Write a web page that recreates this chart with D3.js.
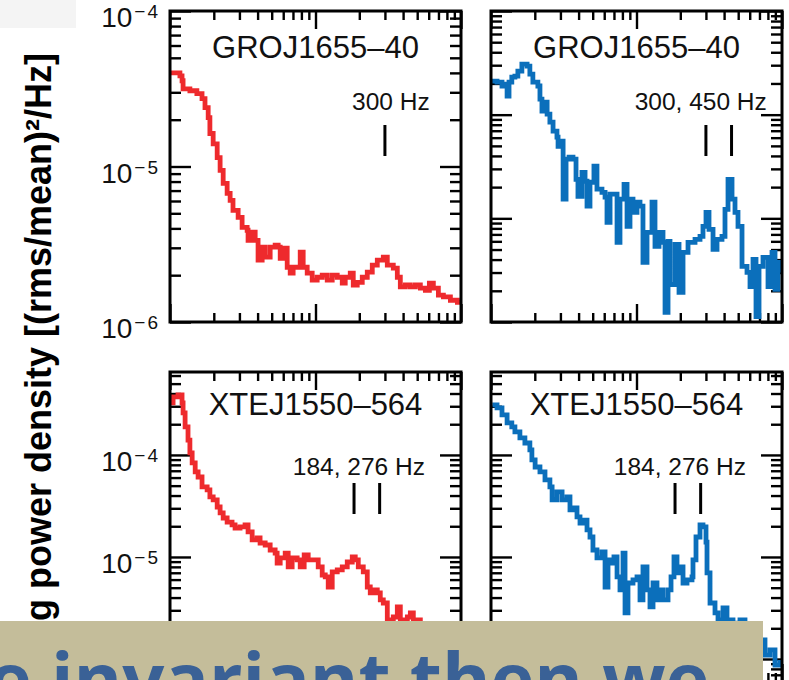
<!DOCTYPE html>
<html><head><meta charset="utf-8">
<script src="https://cdn.jsdelivr.net/npm/d3@7"></script>
<style>body{margin:0;background:#fff;overflow:hidden}svg{display:block}</style>
</head><body>
<svg id="c" width="789" height="680"></svg>
<script>
// ---------- DATA ----------
const titles = ["GROJ1655–40", "GROJ1655–40", "XTEJ1550–564", "XTEJ1550–564"];
const qpoLabels = ["300 Hz", "300, 450 Hz", "184, 276 Hz", "184, 276 Hz"];
const groRedQPO = [300];
const groBlueQPO = [300, 450];
const xteQPO = [184, 276];
const topYExponents = [-4, -5, -6];
const bottomYExponents = [-4, -5];
const yAxisLabel = "g power density [(rms/mean)²/Hz]";
const slideText = "e invariant then we";

const groRedFreq = [10,11.7,12.1,12.3,13.7,15.3,16.6,17.4,18.3,18.8,19.8,21.1,22.1,23.2,24.7,25.9,27.1,29.4,31.3,33.9,34.4,36.7,38.5,40.3,43.0,45.1,47.3,48.8,52.8,55.4,57.2,60.9,63.9,67.0,70.2,74.8,78.5,82.3,87.7,94.9,102.7,111.2,120.4,130.3,141.1,152.7,160.1,173.3,181.8,193.6,209.6,226.9,245.6,265.9,292.4,311.5,342.5,365.0,382.8,414.4,448.6,485.7,525.6,568.9,606.2,645.7,699.1,756.8,845.6,944.6,990.6];
const groRedPower = [4.0e-5,3.83e-5,3.56e-5,3.16e-5,3.07e-5,2.94e-5,2.73e-5,2.39e-5,2.06e-5,1.63e-5,1.40e-5,1.14e-5,9.43e-6,7.78e-6,6.71e-6,6.05e-6,5.22e-6,4.71e-6,4.06e-6,3.89e-6,3.35e-6,3.78e-6,3.35e-6,2.50e-6,3.03e-6,2.61e-6,2.61e-6,3.03e-6,3.12e-6,3.03e-6,2.57e-6,2.98e-6,2.25e-6,2.06e-6,2.25e-6,2.25e-6,2.81e-6,2.25e-6,2.06e-6,1.86e-6,1.94e-6,2.00e-6,1.86e-6,2.00e-6,1.94e-6,1.78e-6,1.94e-6,2.06e-6,1.73e-6,1.80e-6,1.94e-6,2.09e-6,2.32e-6,2.50e-6,2.61e-6,2.32e-6,2.22e-6,1.94e-6,1.68e-6,1.73e-6,1.68e-6,1.73e-6,1.65e-6,1.60e-6,1.78e-6,1.65e-6,1.49e-6,1.45e-6,1.38e-6,1.34e-6,1.38e-6];

const groBlueFreq = [10.0,11.0,11.9,12.5,12.9,13.3,13.9,14.6,15.3,16.3,17.7,18.5,19.4,21.0,21.7,22.4,23.5,24.3,25.4,26.7,28.4,28.9,30.8,31.3,32.8,34.4,36.6,38.4,39.6,42.2,44.3,45.7,47.9,51.0,53.5,57.9,60.8,62.7,65.8,70.0,73.5,77.0,82.1,86.1,90.2,94.6,100.8,105.7,110.8,118.1,127.8,134.0,142.8,152.1,157.1,164.7,169.9,183.9,196.0,208.8,226.0,252.5,273.2,286.4,300.4,315.0,335.7,357.6,386.9,405.7,425.6,453.4,475.3,498.4,531.1,574.9,602.8,632.1,662.8,695.1,740.4,801.5,853.9,895.3,938.9,1000];
const groBluePower = [2.11e-5,2.06e-5,1.89e-5,1.97e-5,1.51e-5,2.06e-5,2.30e-5,2.35e-5,2.63e-5,3.07e-5,2.94e-5,2.46e-5,2.06e-5,1.89e-5,1.41e-5,1.08e-5,1.32e-5,1.01e-5,8.46e-6,6.93e-6,6.06e-6,4.96e-6,5.55e-6,1.53e-6,3.72e-6,3.89e-6,3.72e-6,2.38e-6,1.63e-6,2.78e-6,2.28e-6,1.31e-6,2.23e-6,3.18e-6,1.91e-6,1.78e-6,1.60e-6,9.15e-7,1.71e-6,1.71e-6,5.86e-7,1.53e-6,2.13e-6,8.37e-7,1.53e-6,1.14e-6,1.43e-6,1.31e-6,3.76e-7,7.32e-7,1.43e-6,5.36e-7,7.32e-7,5.86e-7,1.24e-7,6.0e-7,2.30e-7,5.61e-7,1.93e-7,4.69e-7,5.86e-7,6.27e-7,6.70e-7,8.37e-7,1.14e-6,7.83e-7,5.02e-7,6.27e-7,6.70e-7,1.22e-6,2.38e-6,1.53e-6,1.14e-6,8.37e-7,3.44e-7,3.01e-7,2.20e-7,4.02e-7,1.13e-7,3.44e-7,4.20e-7,2.20e-7,4.69e-7,2.06e-7,3.76e-7,3.01e-7];

const xteRedFreq = [10.0,10.5,11.35,12.1,12.3,12.7,13.3,13.7,14.2,14.9,15.6,16.6,18.0,18.8,19.8,21.1,22.1,23.2,24.7,26.7,28.0,30.3,32.8,34.4,36.7,39.7,41.6,45.1,48.8,52.8,54.5,57.2,61.9,64.9,69.1,74.8,78.5,83.6,89.1,96.4,104.4,111.2,116.7,122.3,130.3,141.1,152.7,165.3,178.9,187.6,196.8,213.0,226.9,237.9,249.5,265.9,278.8,292.4,311.5,342.5,365.0,382.8,427.8,448.6,470.3,525.6,615.9,721.6,845.6,990.6];
const xteRedPower = [3.24e-4,3.70e-4,3.87e-4,3.24e-4,2.58e-4,1.88e-4,1.40e-4,1.05e-4,8.35e-5,6.81e-5,6.08e-5,4.86e-5,4.54e-5,3.88e-5,3.62e-5,3.09e-5,2.70e-5,2.41e-5,2.20e-5,2.06e-5,1.92e-5,1.97e-5,2.06e-5,1.76e-5,1.47e-5,1.54e-5,1.37e-5,1.31e-5,1.17e-5,1.09e-5,8.73e-6,9.78e-6,1.09e-5,7.98e-6,9.78e-6,9.35e-6,7.98e-6,1.05e-5,9.35e-6,9.35e-6,7.98e-6,6.66e-6,6.37e-6,5.08e-6,7.13e-6,7.46e-6,7.98e-6,8.93e-6,1.0e-5,9.35e-6,7.98e-6,7.13e-6,5.08e-6,4.44e-6,4.75e-6,4.44e-6,3.79e-6,3.54e-6,2.41e-6,2.58e-6,3.24e-6,2.41e-6,2.58e-6,2.83e-6,2.41e-6,1.72e-6,1.37e-6,1.23e-6,9.8e-7,8.7e-7];

const xteBlueFreq = [10.2,11.0,11.9,12.9,13.9,14.6,15.8,17.1,18.5,19.1,20.1,21.7,23.5,25.4,26.3,28.4,30.8,33.3,34.9,36.6,39.0,40.9,42.9,45.7,47.9,50.2,53.5,57.9,60.8,63.7,67.8,70.0,73.5,77.0,80.8,83.4,87.4,94.6,100.8,105.7,110.8,118.1,123.8,129.9,138.3,145.0,152.1,164.7,172.7,181.0,189.8,199.1,208.8,222.4,240.7,244.5,256.4,273.2,286.4,300.4,305.2,320.1,346.4,363.3,393.1,418.8,460.5,514.3,556.8,652.4,764.1,827.1,895.3,969.0];
const xteBluePower = [3.09e-4,2.89e-4,2.47e-4,2.06e-4,1.88e-4,1.68e-4,1.47e-4,1.31e-4,1.12e-4,8.93e-5,7.62e-5,6.81e-5,5.69e-5,4.86e-5,3.62e-5,4.34e-5,3.62e-5,3.88e-5,2.89e-5,3.02e-5,2.47e-5,2.15e-5,2.30e-5,1.84e-5,1.57e-5,1.17e-5,9.78e-6,1.12e-5,5.08e-6,9.35e-6,8.73e-6,1.0e-5,6.37e-6,4.75e-6,1.09e-5,2.83e-6,5.56e-6,5.95e-6,6.37e-6,3.79e-6,7.98e-6,4.75e-6,3.24e-6,5.56e-6,3.79e-6,4.75e-6,3.79e-6,4.75e-6,6.37e-6,1.0e-5,6.97e-6,7.98e-6,5.56e-6,5.95e-6,6.37e-6,9.35e-6,1.57e-5,2.06e-5,1.97e-5,1.40e-5,6.97e-6,3.54e-6,2.83e-6,2.41e-6,3.16e-6,2.41e-6,2.25e-6,2.41e-6,1.92e-6,1.54e-6,1.09e-6,1.23e-6,8.7e-7,9.8e-7];

// ---------- LAYOUT ----------
const RED = "#ee2a2d", BLUE = "#0b6fbb";
const svg = d3.select("#c");
svg.append("rect").attr("x",0).attr("y",0).attr("width",76).attr("height",28).attr("fill","#f4f4f4");

const colX = [[170,461],[491,782]];
const rows = [
  {top:11, bottom:322, domains:[[1e-6,1e-4],[1e-7,1e-4]], exps: topYExponents, titleY:58, markTop:125, markBot:156, labelY:110},
  {top:372, bottom:682, domains:[[5.95e-7,6.5e-4],[5.95e-7,6.5e-4]], exps: bottomYExponents, titleY:415, markTop:483, markBot:514, labelY:475}
];
const panels = [
  {row:0,col:0,freq:groRedFreq,power:groRedPower,color:RED,qpo:groRedQPO,label:qpoLabels[0],title:titles[0],labelShift:6},
  {row:0,col:1,freq:groBlueFreq,power:groBluePower,color:BLUE,qpo:groBlueQPO,label:qpoLabels[1],title:titles[1],labelShift:-18},
  {row:1,col:0,freq:xteRedFreq,power:xteRedPower,color:RED,qpo:xteQPO,label:qpoLabels[2],title:titles[2],labelShift:-8},
  {row:1,col:1,freq:xteBlueFreq,power:xteBluePower,color:BLUE,qpo:xteQPO,label:qpoLabels[3],title:titles[3],labelShift:-8}
];
const FONT = "'Liberation Sans', Arial, Helvetica, sans-serif";

panels.forEach((p,i) => {
  const r = rows[p.row];
  const [x0,x1] = colX[p.col];
  const x = d3.scaleLog().domain([10,1000]).range([x0,x1]);
  const y = d3.scaleLog().domain(r.domains[p.col]).range([r.bottom, r.top]);
  const g = svg.append("g");
  const cid = "clip"+i;
  g.append("clipPath").attr("id",cid).append("rect")
    .attr("x",x0).attr("y",r.top).attr("width",x1-x0).attr("height",r.bottom-r.top);

  const yt = y.ticks();
  const isMajor = v => Math.abs(Math.log10(v) - Math.round(Math.log10(v))) < 1e-6;
  const yMaj = yt.filter(isMajor), yMin = yt.filter(v=>!isMajor(v));
  const xt = x.ticks();
  const xMaj = xt.filter(isMajor), xMin = xt.filter(v=>!isMajor(v));

  const axes = [
    [d3.axisLeft(y), x0, 0, yMaj, 21], [d3.axisLeft(y), x0, 0, yMin, 11],
    [d3.axisRight(y), x1, 0, yMaj, 21], [d3.axisRight(y), x1, 0, yMin, 11],
    [d3.axisTop(x), 0, r.top, xMaj, 18], [d3.axisTop(x), 0, r.top, xMin, 9],
    [d3.axisBottom(x), 0, r.bottom, xMaj, 18], [d3.axisBottom(x), 0, r.bottom, xMin, 9]
  ];
  axes.forEach(([ax,tx,ty,vals,len]) => {
    const a = g.append("g").attr("transform",`translate(${tx},${ty})`)
      .call(ax.tickValues(vals).tickSizeInner(-len).tickSizeOuter(0).tickFormat(""));
    a.select(".domain").remove();
    a.selectAll("line").attr("stroke","#000").attr("stroke-width",2.4);
  });

  // curve
  const line = d3.line().x(d=>x(d[0])).y(d=>y(d[1])).curve(d3.curveStepAfter);
  g.append("path").datum(p.freq.map((f,k)=>[f,p.power[k]]))
    .attr("clip-path",`url(#${cid})`)
    .attr("d",line).attr("fill","none").attr("stroke",p.color)
    .attr("stroke-width",4.8).attr("stroke-linejoin","miter");

  // frame
  g.append("rect").attr("x",x0).attr("y",r.top).attr("width",x1-x0).attr("height",r.bottom-r.top)
    .attr("fill","none").attr("stroke","#000").attr("stroke-width",3);

  // title
  g.append("text").attr("x",(x0+x1)/2).attr("y",r.titleY).attr("text-anchor","middle")
    .attr("font-family",FONT).attr("font-size",31).attr("fill","#111").text(p.title);

  // QPO markers
  g.selectAll("line.qpo").data(p.qpo).join("line").attr("class","qpo")
    .attr("x1",d=>x(d)).attr("x2",d=>x(d)).attr("y1",r.markTop).attr("y2",r.markBot)
    .attr("stroke","#000").attr("stroke-width",3);
  const mid = d3.mean(p.qpo, d=>x(d));
  g.append("text").attr("x",mid + p.labelShift).attr("y",r.labelY).attr("text-anchor","middle")
    .attr("font-family",FONT).attr("font-size",24.5).attr("fill","#111").text(p.label);

  // y labels (left column only)
  if (p.col===0) {
    r.exps.forEach(e => {
      const t = g.append("text").attr("x",x0-10).attr("y",y(Math.pow(10,e))+16)
        .attr("text-anchor","end").attr("font-family",FONT).attr("fill","#111");
      t.append("tspan").attr("font-size",28).text("10");
      t.append("tspan").attr("font-size",19).attr("dy",-9).attr("dx",2)
        .attr("letter-spacing",2).text("−"+Math.abs(e));
    });
  }
});

// y-axis title
svg.append("text").attr("transform","translate(51,337) rotate(-90)")
  .attr("text-anchor","middle").attr("font-family",FONT).attr("font-weight","bold")
  .attr("font-size",36).attr("fill","#000").text(yAxisLabel);

// slide overlay
svg.append("rect").attr("x",0).attr("y",621).attr("width",763).attr("height",70).attr("fill","#c4bd9a");
svg.append("text").attr("x",-12).attr("y",706).attr("font-family","'Open Sans', sans-serif")
  .attr("font-weight",700).attr("font-size",74).attr("fill","#3a6196").text(slideText);
</script>
</body></html>
